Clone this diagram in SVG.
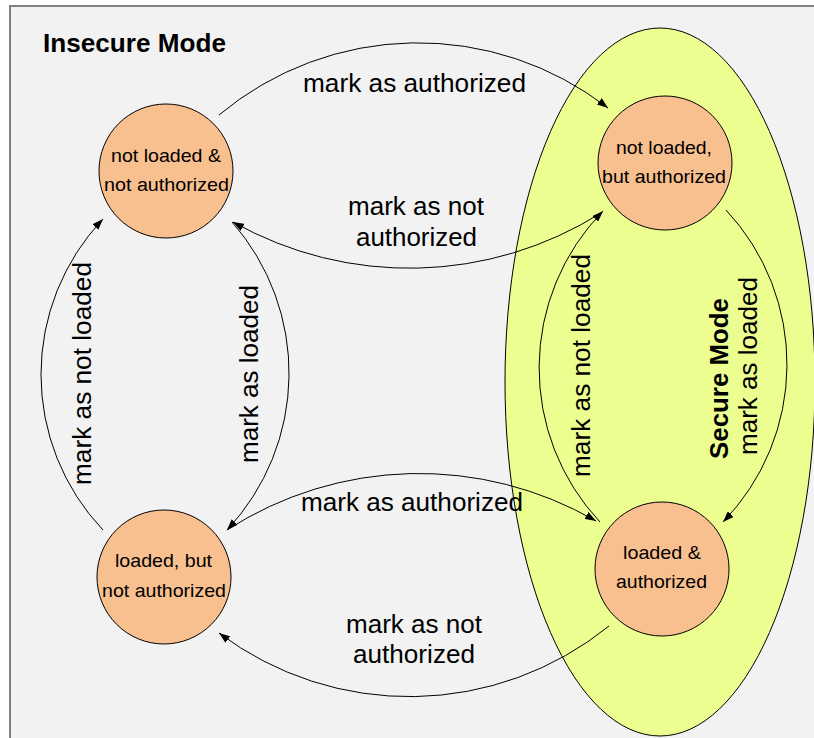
<svg xmlns="http://www.w3.org/2000/svg" width="814" height="738" viewBox="0 0 814 738">
  <defs>
    <marker id="arrow" viewBox="0 0 11 8" refX="11" refY="4" markerWidth="11" markerHeight="8" markerUnits="userSpaceOnUse" orient="auto">
      <path d="M0,0 L11,4 L0,8 z" fill="#000"/>
    </marker>
    <style>
      .state { fill: #F8BF8F; stroke: #000; stroke-width: 1; }
      .state-text { font-family: "Liberation Sans", Arial, sans-serif; font-size: 19px; fill: #000; text-anchor: middle; }
      .edge { fill: none; stroke: #000; stroke-width: 1; marker-end: url(#arrow); }
      .edge-label { font-family: "Liberation Sans", Arial, sans-serif; font-size: 25px; fill: #000; text-anchor: middle; }
      .mode { font-family: "Liberation Sans", Arial, sans-serif; font-size: 25px; font-weight: bold; fill: #000; }
    </style>
  </defs>

  <!-- page and frame -->
  <rect x="0" y="0" width="814" height="738" fill="#FFFFFF"/>
  <rect x="10" y="6" width="820" height="740" fill="#F2F2F2" stroke="#808080" stroke-width="2"/>

  <!-- secure mode region -->
  <g id="secure-region">
    <ellipse cx="660" cy="382" rx="155" ry="354" fill="#EDFE90" stroke="#000" stroke-width="1"/>
  </g>

  <!-- region titles -->
  <g id="titles">
    <text class="mode" x="43" y="52" textLength="183" lengthAdjust="spacingAndGlyphs">Insecure Mode</text>
    <text class="mode" text-anchor="middle" transform="translate(728,378.5) rotate(-90)" textLength="161" lengthAdjust="spacingAndGlyphs">Secure Mode</text>
  </g>

  <!-- transitions -->
  <g id="connectors">
    <path id="e-tl-tr" class="edge" d="M219,115 A310,310 0 0 1 608,108"/>
    <path id="e-tr-tl" class="edge" d="M601,213 A360,360 0 0 1 233,222"/>
    <path id="e-tl-bl" class="edge" d="M232,222 A229,229 0 0 1 227,530"/>
    <path id="e-bl-tl" class="edge" d="M103,530 A226,226 0 0 1 103,219"/>
    <path id="e-br-tr" class="edge" d="M600,522 A225,225 0 0 1 603,211"/>
    <path id="e-tr-br" class="edge" d="M726,210 A226,226 0 0 1 723,522"/>
    <path id="e-bl-br" class="edge" d="M227,530 A354,354 0 0 1 596,521"/>
    <path id="e-br-bl" class="edge" d="M609,626 A317,317 0 0 1 219,633"/>
  </g>

  <!-- states -->
  <g id="state-not-loaded-not-authorized">
    <circle class="state" cx="166" cy="171" r="67"/>
    <text class="state-text" x="166" y="162" textLength="110" lengthAdjust="spacingAndGlyphs">not loaded &amp;</text>
    <text class="state-text" x="166.5" y="191" textLength="125" lengthAdjust="spacingAndGlyphs">not authorized</text>
  </g>
  <g id="state-not-loaded-authorized">
    <circle class="state" cx="665" cy="163" r="67"/>
    <text class="state-text" x="664" y="154" textLength="96" lengthAdjust="spacingAndGlyphs">not loaded,</text>
    <text class="state-text" x="664" y="183" textLength="124" lengthAdjust="spacingAndGlyphs">but authorized</text>
  </g>
  <g id="state-loaded-not-authorized">
    <circle class="state" cx="164" cy="577" r="67"/>
    <text class="state-text" x="163.5" y="567" textLength="97" lengthAdjust="spacingAndGlyphs">loaded, but</text>
    <text class="state-text" x="164" y="597" textLength="124" lengthAdjust="spacingAndGlyphs">not authorized</text>
  </g>
  <g id="state-loaded-authorized">
    <circle class="state" cx="662" cy="569" r="67"/>
    <text class="state-text" x="662" y="559" textLength="78" lengthAdjust="spacingAndGlyphs">loaded &amp;</text>
    <text class="state-text" x="661.5" y="588" textLength="91" lengthAdjust="spacingAndGlyphs">authorized</text>
  </g>

  <!-- transition labels -->
  <g id="connector-labels">
    <text class="edge-label" x="414.5" y="92" textLength="223" lengthAdjust="spacingAndGlyphs">mark as authorized</text>
    <text class="edge-label" x="416" y="215" textLength="136" lengthAdjust="spacingAndGlyphs">mark as not</text>
    <text class="edge-label" x="416.5" y="246" textLength="121" lengthAdjust="spacingAndGlyphs">authorized</text>
    <text class="edge-label" x="412" y="511" textLength="222" lengthAdjust="spacingAndGlyphs">mark as authorized</text>
    <text class="edge-label" x="414" y="633" textLength="136" lengthAdjust="spacingAndGlyphs">mark as not</text>
    <text class="edge-label" x="414" y="663" textLength="122" lengthAdjust="spacingAndGlyphs">authorized</text>
    <text class="edge-label" transform="translate(91,373.5) rotate(-90)" textLength="223" lengthAdjust="spacingAndGlyphs">mark as not loaded</text>
    <text class="edge-label" transform="translate(258,374) rotate(-90)" textLength="178" lengthAdjust="spacingAndGlyphs">mark as loaded</text>
    <text class="edge-label" transform="translate(590,365.5) rotate(-90)" textLength="223" lengthAdjust="spacingAndGlyphs">mark as not loaded</text>
    <text class="edge-label" transform="translate(757,366) rotate(-90)" textLength="178" lengthAdjust="spacingAndGlyphs">mark as loaded</text>
  </g>
</svg>
